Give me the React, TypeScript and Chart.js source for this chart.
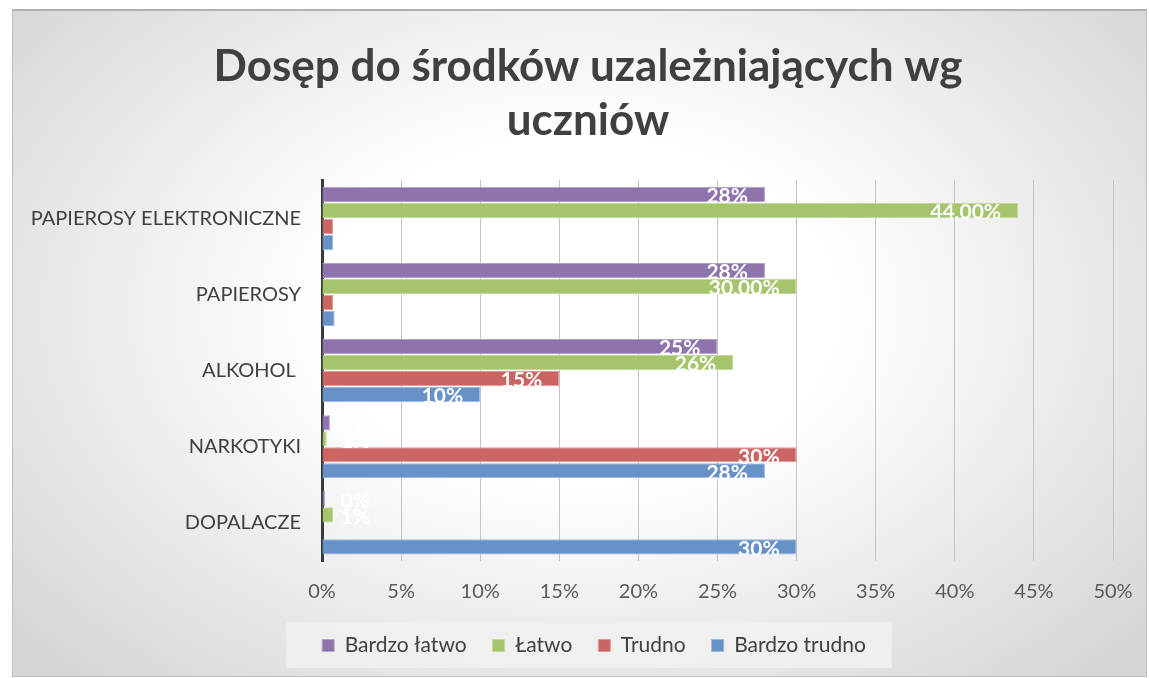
import React, { useEffect, useRef } from "react";
import { Chart, registerables } from "chart.js";

Chart.register(...registerables);

const titleLines = ["Dosęp do środków uzależniających wg", "uczniów"];
const categories = ["PAPIEROSY ELEKTRONICZNE", "PAPIEROSY", "ALKOHOL ", "NARKOTYKI", "DOPALACZE"];
const seriesNames = ["Bardzo łatwo", "Łatwo", "Trudno", "Bardzo trudno"];

const bardzoLatwo = [28, 28, 25, 0.5, 0.2];
const latwo = [44, 30, 26, 0.3, 0.7];
const trudno = [0.7, 0.7, 15, 30, 0];
const bardzoTrudno = [0.7, 0.8, 10, 28, 30];

const bardzoLatwoLabels = ["28%", "28%", "25%", "0%", "0%"];
const latwoLabels = ["44,00%", "30,00%", "26%", "1%", "1%"];
const trudnoLabels = ["", "", "15%", "30%", ""];
const bardzoTrudnoLabels = ["", "", "10%", "28%", "30%"];

const xTickStep = 5;
const xMax = 50;

const seriesColors = ["#8e73ac", "#a5c46b", "#ca6563", "#6792c8"];
const seriesBorders = ["#b3a2c8", "#c4d89e", "#dc9a98", "#9bb8de"];
const FONT = "Lato, 'Open Sans', sans-serif";

const seriesValues = [bardzoLatwo, latwo, trudno, bardzoTrudno];
const seriesLabels = [bardzoLatwoLabels, latwoLabels, trudnoLabels, bardzoTrudnoLabels];

const labelPlugin = {
  id: "barLabels",
  afterDatasetsDraw(chart: any) {
    const ctx = chart.ctx;
    chart.data.datasets.forEach((_ds: any, i: number) => {
      const meta = chart.getDatasetMeta(i);
      meta.data.forEach((bar: any, j: number) => {
        const txt = seriesLabels[i][j];
        if (!txt) return;
        const { x, y, base } = bar.getProps(["x", "y", "base"], true);
        ctx.save();
        ctx.font = `bold 21px ${FONT}`;
        ctx.fillStyle = "#ffffff";
        ctx.textBaseline = "middle";
        const w = ctx.measureText(txt).width;
        if (x - base > w + 20) {
          ctx.textAlign = "right";
          ctx.fillText(txt, x - 17, y + 2);
        } else {
          ctx.textAlign = "left";
          ctx.fillText(txt, base + 18, y + 2);
        }
        ctx.restore();
      });
    });
  },
};

const shiftPlugin = {
  id: "boxShift",
  afterLayout(chart: any) {
    const lg = chart.legend;
    if (lg) {
      lg.left += 26;
      lg.right += 26;
    }
    const tt = chart.titleBlock;
    if (tt) {
      tt.left += 20;
      tt.right += 20;
    }
  },
};

const legendBoxPlugin = {
  id: "legendBox",
  beforeDraw(chart: any) {
    const lg = chart.legend;
    if (!lg || !lg.legendHitBoxes || !lg.legendHitBoxes.length) return;
    const hb = lg.legendHitBoxes;
    let l = Infinity, r = -Infinity, t = Infinity, b = -Infinity;
    hb.forEach((h: any) => {
      l = Math.min(l, h.left);
      r = Math.max(r, h.left + h.width);
      t = Math.min(t, h.top);
      b = Math.max(b, h.top + h.height);
    });
    const ctx = chart.ctx;
    ctx.save();
    ctx.fillStyle = "rgba(240,240,240,0.92)";
    ctx.fillRect(l - 36, t - 13, r - l + 62, b - t + 25);
    ctx.restore();
  },
};

export default function App() {
  const ref = useRef<HTMLCanvasElement | null>(null);

  useEffect(() => {
    if (!ref.current) return;
    const chart = new Chart(ref.current, {
      type: "bar",
      data: {
        labels: categories,
        datasets: seriesNames.map((name, i) => ({
          label: name,
          data: seriesValues[i],
          backgroundColor: seriesColors[i],
          borderColor: seriesBorders[i],
          borderWidth: 1,
          categoryPercentage: 0.84,
          barPercentage: 0.95,
        })),
      },
      options: {
        indexAxis: "y",
        animation: false,
        responsive: true,
        maintainAspectRatio: false,
        layout: { padding: { left: 10, right: 33, top: 0, bottom: 10 } },
        scales: {
          x: {
            min: 0,
            max: xMax,
            afterFit: (scale: any) => {
              scale.height = 48;
              scale.paddingRight = 0;
              scale.paddingLeft = 0;
            },
            ticks: {
              stepSize: xTickStep,
              callback: (v: any) => v + "%",
              color: "#595959",
              font: { family: FONT, size: 20 },
              padding: 19,
            },
            grid: { color: "#c4c4c4", lineWidth: 1, drawTicks: false },
            border: { display: false },
          },
          y: {
            afterFit: (scale: any) => {
              scale.width = 299;
            },
            ticks: {
              color: "#404040",
              font: { family: FONT, size: 20 },
              padding: 13,
            },
            grid: { display: false },
            border: { display: true, color: "#3a3a3a", width: 3 },
          },
        },
        plugins: {
          title: {
            display: true,
            text: titleLines,
            color: "#404040",
            font: { family: FONT, size: 44, weight: "bold", lineHeight: 1.23 },
            padding: { top: 29, bottom: 32 },
          },
          legend: {
            position: "bottom",
            labels: {
              boxWidth: 12,
              boxHeight: 12,
              color: "#404040",
              font: { family: FONT, size: 21 },
              padding: 26,
            },
          },
          tooltip: { enabled: false },
        },
      },
      plugins: [shiftPlugin, labelPlugin, legendBoxPlugin],
    } as any);
    return () => chart.destroy();
  }, []);

  return (
    <div
      style={{
        position: "fixed",
        left: 12,
        top: 9,
        width: 1135,
        height: 668,
        boxSizing: "border-box",
        border: "1px solid #bfbfbf",
        borderTop: "2px solid #b0b0b0",
        background:
          "radial-gradient(ellipse 65% 75% at 50% 45%, #ffffff 35%, #d6d6d6 100%)",
      }}
    >
      <canvas ref={ref} />
    </div>
  );
}
